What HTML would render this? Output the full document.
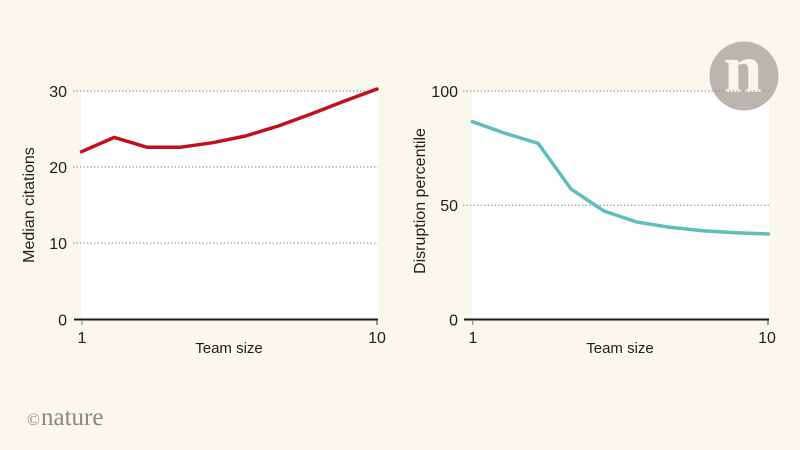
<!DOCTYPE html>
<html>
<head>
<meta charset="utf-8">
<style>
html,body{margin:0;padding:0;background:#faf7ec;}
svg{display:block;}
text{font-family:"Liberation Sans",sans-serif;fill:#1e1e1e;}
</style>
</head>
<body>
<svg width="800" height="450" viewBox="0 0 800 450" xmlns="http://www.w3.org/2000/svg">
<rect x="0" y="0" width="800" height="450" fill="#faf7ec"/>

<!-- Left plot -->
<rect x="81" y="91" width="297" height="228.5" fill="#ffffff"/>
<g stroke="#8a8a8a" stroke-width="1" stroke-dasharray="1.5,2" fill="none">
  <line x1="73" y1="91" x2="378" y2="91"/>
  <line x1="73" y1="167" x2="378" y2="167"/>
  <line x1="73" y1="243" x2="378" y2="243"/>
</g>
<line x1="74" y1="319.5" x2="378" y2="319.5" stroke="#1a1a1a" stroke-width="2"/>
<line x1="82" y1="320" x2="82" y2="325" stroke="#777" stroke-width="1"/>
<line x1="377" y1="320" x2="377" y2="325" stroke="#333" stroke-width="1"/>
<g font-size="16" text-anchor="end">
  <text x="67" y="97">30</text>
  <text x="67" y="173">20</text>
  <text x="67" y="249">10</text>
  <text x="67" y="325.5">0</text>
</g>
<g font-size="16" text-anchor="middle">
  <text x="82" y="343">1</text>
  <text x="377" y="343">10</text>
</g>
<text x="229" y="353" font-size="15" text-anchor="middle">Team size</text>
<text transform="translate(34,205) rotate(-90)" font-size="16" text-anchor="middle">Median citations</text>
<polyline fill="none" stroke="#bf111c" stroke-width="3.5" stroke-linejoin="round" stroke-linecap="round"
  points="81.5,151.7 114.3,137.4 147.1,147.3 179.9,147.3 212.7,142.7 245.5,136 278.3,126 311.1,114 343.9,101.3 377,89"/>

<!-- Right plot -->
<rect x="472" y="91" width="297" height="228.5" fill="#ffffff"/>

<!-- Nature logo circle (over plot area) -->
<circle cx="744" cy="76" r="34.5" fill="#b8b6ae"/>
<text x="743" y="92" text-anchor="middle" style="font-family:'Liberation Serif',serif;font-weight:bold;font-size:70px;fill:#f7f5ee;">n</text>

<g stroke="#8a8a8a" stroke-width="1" stroke-dasharray="1.5,2" fill="none">
  <line x1="463" y1="91" x2="769" y2="91"/>
  <line x1="463" y1="205.3" x2="769" y2="205.3"/>
</g>
<line x1="464" y1="319.5" x2="769" y2="319.5" stroke="#1a1a1a" stroke-width="2"/>
<line x1="472.7" y1="320" x2="472.7" y2="325" stroke="#777" stroke-width="1"/>
<line x1="768" y1="320" x2="768" y2="325" stroke="#333" stroke-width="1"/>
<g font-size="16" text-anchor="end">
  <text x="458" y="97">100</text>
  <text x="458" y="211">50</text>
  <text x="458" y="325.5">0</text>
</g>
<g font-size="16" text-anchor="middle">
  <text x="473" y="343">1</text>
  <text x="767" y="343">10</text>
</g>
<text x="620" y="353" font-size="15" text-anchor="middle">Team size</text>
<text transform="translate(425,201) rotate(-90)" font-size="16" text-anchor="middle">Disruption percentile</text>
<polyline fill="none" stroke="#5ebfba" stroke-width="3.5" stroke-linejoin="round" stroke-linecap="round"
  points="472.3,121.7 505.2,133.3 538.1,143.3 571,189 603.9,211 636.8,222 669.7,227.3 702.6,230.7 735.5,232.7 768.4,234"/>

<!-- nature copyright -->
<text x="27" y="425" style="font-family:'Liberation Serif',serif;font-size:17px;fill:#8b8880;">©</text>
<text x="41" y="425" style="font-family:'Liberation Serif',serif;font-size:25px;fill:#8b8880;">nature</text>
</svg>
</body>
</html>
